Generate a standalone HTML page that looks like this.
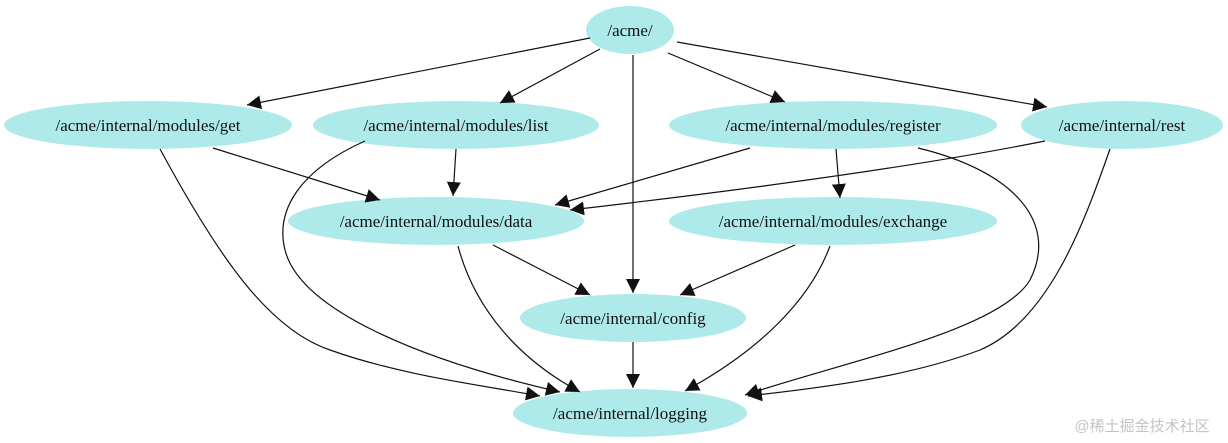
<!DOCTYPE html>
<html><head><meta charset="utf-8"><style>
html,body{margin:0;padding:0;background:#fff;width:1228px;height:443px;overflow:hidden}
</style></head><body>
<svg width="1228" height="443" viewBox="0 0 1228 443" xmlns="http://www.w3.org/2000/svg">
<defs><marker id="a" viewBox="0 0 10 10" refX="10" refY="5" markerWidth="14" markerHeight="14" markerUnits="userSpaceOnUse" orient="auto"><path d="M0,0L10,5L0,10z" fill="#111"/></marker></defs>
<g fill="#aeeaea">
<ellipse cx="630" cy="30" rx="44" ry="24"/>
<ellipse cx="148" cy="125" rx="144" ry="24"/>
<ellipse cx="456" cy="125" rx="143" ry="24"/>
<ellipse cx="833" cy="125" rx="164" ry="24"/>
<ellipse cx="1122" cy="125" rx="101" ry="24"/>
<ellipse cx="436" cy="221" rx="148" ry="24"/>
<ellipse cx="833" cy="221" rx="164" ry="24"/>
<ellipse cx="633" cy="318" rx="113" ry="24"/>
<ellipse cx="630" cy="413" rx="117" ry="24"/>
</g>
<g stroke="#111" stroke-width="1.2" fill="none" marker-end="url(#a)">
<path d="M590,38L247,105"/>
<path d="M600,49L500,103"/>
<path d="M668,53L785,102"/>
<path d="M677,42L1047,107"/>
<path d="M633,55L633,293"/>
<path d="M456,149L453,196"/>
<path d="M213,148L380,200"/>
<path d="M750,148L555,205"/>
<path d="M1045,141C900,170 700,195 570,210"/>
<path d="M836,149L840,198"/>
<path d="M493,245L590,295"/>
<path d="M795,245L680,295"/>
<path d="M633,342L633,388"/>
<path d="M458,246C475,310 520,360 580,392"/>
<path d="M160,149C220,260 270,330 330,350 C400,375 480,385 540,396"/>
<path d="M365,141C300,170 275,210 285,250 C300,310 420,360 560,392"/>
<path d="M830,246C810,300 760,350 685,391"/>
<path d="M918,148C1010,170 1060,220 1030,280 C1000,330 850,360 745,395"/>
<path d="M1110,149C1085,220 1050,320 980,350 C900,380 800,390 748,396"/>
</g>
<g font-family="'Liberation Serif', 'Times New Roman', serif" font-size="17" fill="#111" text-anchor="middle">
<text x="630" y="36">/acme/</text>
<text x="148" y="131">/acme/internal/modules/get</text>
<text x="456" y="131">/acme/internal/modules/list</text>
<text x="833" y="131">/acme/internal/modules/register</text>
<text x="1122" y="131">/acme/internal/rest</text>
<text x="436" y="227">/acme/internal/modules/data</text>
<text x="833" y="227">/acme/internal/modules/exchange</text>
<text x="633" y="324">/acme/internal/config</text>
<text x="630" y="419">/acme/internal/logging</text>
</g>
<text x="1142" y="431" text-anchor="middle" font-family="'Liberation Sans','Noto Sans CJK SC',sans-serif" font-size="15" fill="#c4c4c4">@稀土掘金技术社区</text>
</svg>
</body></html>
